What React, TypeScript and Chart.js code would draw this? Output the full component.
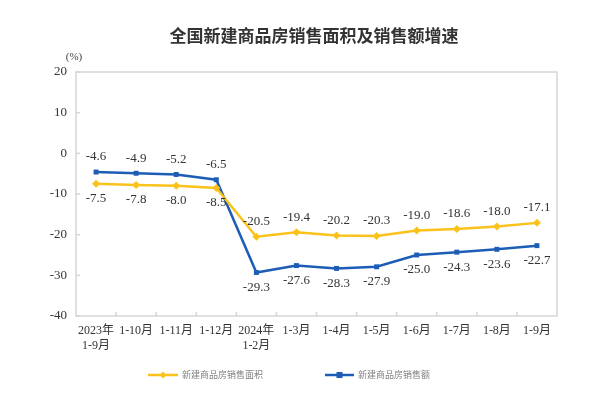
import React, { useEffect, useRef } from "react";
import { Chart, registerables } from "chart.js";

Chart.register(...registerables);

const categories: (string | string[])[] = [
  ["2023年", "1-9月"],
  "1-10月",
  "1-11月",
  "1-12月",
  ["2024年", "1-2月"],
  "1-3月",
  "1-4月",
  "1-5月",
  "1-6月",
  "1-7月",
  "1-8月",
  "1-9月",
];
const areaGrowth = [-7.5, -7.8, -8.0, -8.5, -20.5, -19.4, -20.2, -20.3, -19.0, -18.6, -18.0, -17.1];
const salesGrowth = [-4.6, -4.9, -5.2, -6.5, -29.3, -27.6, -28.3, -27.9, -25.0, -24.3, -23.6, -22.7];
const areaName = "新建商品房销售面积";
const salesName = "新建商品房销售额";
const titleText = "全国新建商品房销售面积及销售额增速";
const unitText = "(%)";
const yMin = -40;
const yMax = 20;
const yStep = 10;

const YELLOW = "#FBC21B";
const BLUE = "#1D5DB6";
const SERIF = "'Liberation Serif', 'Noto Sans CJK SC', serif";
const SANS = "'Noto Sans CJK SC', sans-serif";

const decorPlugin = {
  id: "decor",
  afterDraw(chart: any) {
    const ctx = chart.ctx as CanvasRenderingContext2D;
    const area = chart.chartArea;
    const x = chart.scales.x;
    const y = chart.scales.y;
    ctx.save();
    // box
    ctx.strokeStyle = "#d6d6d6";
    ctx.lineWidth = 1.5;
    ctx.strokeRect(area.left, area.top, area.right - area.left, area.bottom - area.top);
    // y inside ticks
    y.ticks.forEach((t: any) => {
      const py = y.getPixelForValue(t.value);
      ctx.beginPath();
      ctx.moveTo(area.left, py);
      ctx.lineTo(area.left + 4, py);
      ctx.stroke();
    });
    // x inside ticks at category boundaries
    const n = categories.length;
    for (let i = 1; i < n; i++) {
      const px = (x.getPixelForValue(i - 1) + x.getPixelForValue(i)) / 2;
      ctx.beginPath();
      ctx.moveTo(px, area.bottom);
      ctx.lineTo(px, area.bottom - 4);
      ctx.stroke();
    }
    // title
    ctx.fillStyle = "#333";
    ctx.font = `bold 17px ${SANS}`;
    ctx.textAlign = "center";
    ctx.textBaseline = "middle";
    ctx.fillText(titleText, 314, 36);
    // unit
    ctx.font = `11px ${SERIF}`;
    ctx.fillStyle = "#444";
    ctx.fillText(unitText, 74, 57);
    // data labels
    const m0 = chart.getDatasetMeta(0);
    const m1 = chart.getDatasetMeta(1);
    ctx.font = `13px ${SERIF}`;
    ctx.fillStyle = "#333";
    for (let i = 0; i < n; i++) {
      const a = areaGrowth[i];
      const s = salesGrowth[i];
      const pa = m0.data[i];
      const ps = m1.data[i];
      const aAbove = a > s;
      ctx.fillText(a.toFixed(1), pa.x, pa.y + (aAbove ? -15 : 15));
      ctx.fillText(s.toFixed(1), ps.x, ps.y + (aAbove ? 15 : -15));
    }
    // legend
    const ly = 375;
    ctx.lineWidth = 2.5;
    ctx.strokeStyle = YELLOW;
    ctx.beginPath();
    ctx.moveTo(148, ly);
    ctx.lineTo(178, ly);
    ctx.stroke();
    ctx.fillStyle = YELLOW;
    ctx.beginPath();
    ctx.moveTo(163, ly - 3.5);
    ctx.lineTo(166.5, ly);
    ctx.lineTo(163, ly + 3.5);
    ctx.lineTo(159.5, ly);
    ctx.closePath();
    ctx.fill();
    ctx.strokeStyle = BLUE;
    ctx.beginPath();
    ctx.moveTo(325, ly);
    ctx.lineTo(354, ly);
    ctx.stroke();
    ctx.fillStyle = BLUE;
    ctx.fillRect(336.5, ly - 3, 6, 6);
    ctx.font = `9px ${SANS}`;
    ctx.fillStyle = "#808080";
    ctx.textAlign = "left";
    ctx.fillText(areaName, 182, ly);
    ctx.fillText(salesName, 358, ly);
    ctx.restore();
  },
};

export default function App() {
  const ref = useRef<HTMLCanvasElement | null>(null);
  useEffect(() => {
    if (!ref.current) return;
    const chart = new Chart(ref.current, {
      type: "line",
      data: {
        labels: categories as any,
        datasets: [
          {
            label: areaName,
            data: areaGrowth,
            borderColor: YELLOW,
            backgroundColor: YELLOW,
            borderWidth: 2.5,
            pointStyle: "rectRot",
            pointRadius: 4,
            pointBorderWidth: 0,
            tension: 0,
          },
          {
            label: salesName,
            data: salesGrowth,
            borderColor: BLUE,
            backgroundColor: BLUE,
            borderWidth: 2.5,
            pointStyle: "rect",
            pointRadius: 3.5,
            pointBorderWidth: 0,
            tension: 0,
          },
        ],
      },
      options: {
        responsive: false,
        animation: false,
        layout: { padding: { top: 72, right: 43, bottom: 49, left: 0 } },
        plugins: { legend: { display: false }, title: { display: false }, tooltip: { enabled: false } },
        scales: {
          x: {
            offset: true,
            grid: { display: false, drawTicks: false },
            border: { display: false },
            ticks: {
              color: "#333",
              font: { family: SERIF, size: 12 },
              padding: 8,
              maxRotation: 0,
              autoSkip: false,
            },
            afterFit(scale: any) {
              scale.height = 40;
            },
          },
          y: {
            min: yMin,
            max: yMax,
            grid: { display: false, drawTicks: false },
            border: { display: false },
            ticks: {
              stepSize: yStep,
              color: "#333",
              font: { family: SERIF, size: 13 },
              padding: 9,
            },
            afterFit(scale: any) {
              scale.width = 76;
            },
          },
        },
      },
      plugins: [decorPlugin],
    });
    return () => chart.destroy();
  }, []);
  return (
    <div style={{ position: "fixed", left: 0, top: 0, width: 600, height: 405, background: "#fff" }}>
      <canvas ref={ref} width={600} height={405} style={{ width: 600, height: 405, display: "block" }} />
    </div>
  );
}
